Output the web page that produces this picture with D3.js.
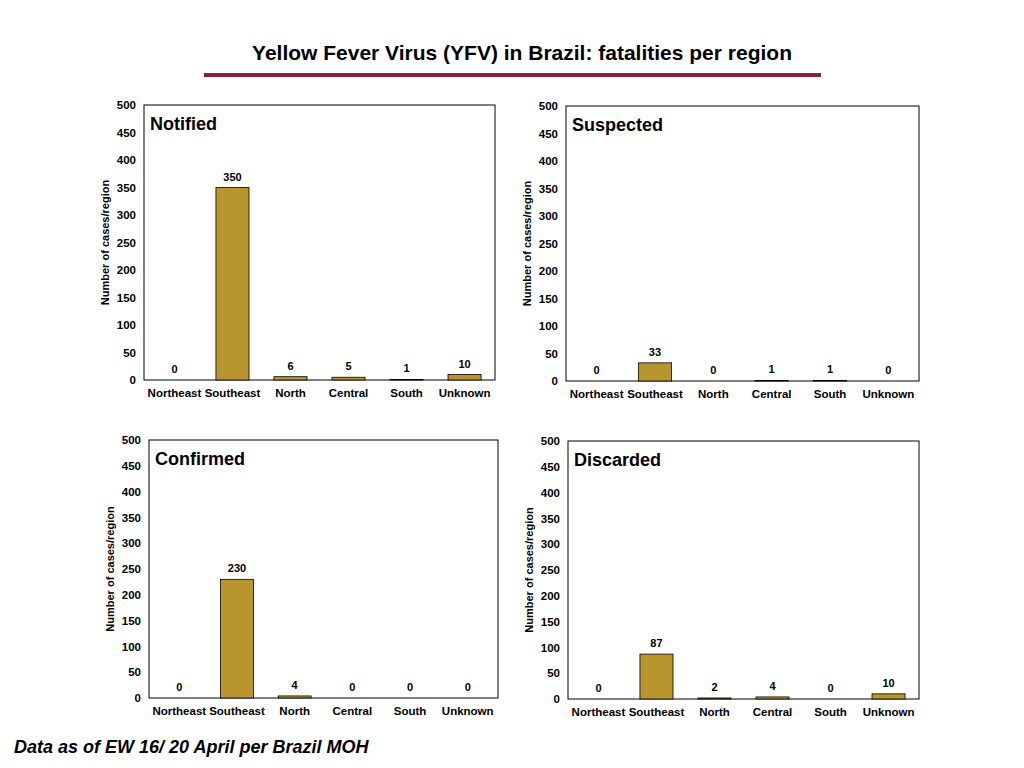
<!DOCTYPE html>
<html>
<head>
<meta charset="utf-8">
<script src="https://d3js.org/d3.v7.min.js"></script>
<style>
body { margin: 0; background: #fff; }
text { font-family: "Liberation Sans", Arial, sans-serif; }
</style>
</head>
<body>
<svg id="chart" width="1024" height="768"></svg>
<script>
var categories = ["Northeast", "Southeast", "North", "Central", "South", "Unknown"];
var notified = [0, 350, 6, 5, 1, 10];
var suspected = [0, 33, 0, 1, 1, 0];
var confirmed = [0, 230, 4, 0, 0, 0];
var discarded = [0, 87, 2, 4, 0, 10];
var yTicks = [0, 50, 100, 150, 200, 250, 300, 350, 400, 450, 500];

var svg = d3.select("#chart");

svg.append("text").attr("x", 522).attr("y", 60).attr("text-anchor", "middle")
  .style("font-size", "21px").style("font-weight", "bold").text("Yellow Fever Virus (YFV) in Brazil: fatalities per region");
svg.append("rect").attr("x", 204).attr("y", 73).attr("width", 617).attr("height", 4).attr("fill", "#8B1E4B");

svg.append("text").attr("x", 14).attr("y", 753)
  .style("font-size", "18px").style("font-weight", "bold").style("font-style", "italic")
  .text("Data as of EW 16/ 20 April per Brazil MOH");

var panels = [
  { name: "Notified", data: notified, x: 144, y: 105, w: 351, h: 275 },
  { name: "Suspected", data: suspected, x: 566, y: 106, w: 353, h: 275 },
  { name: "Confirmed", data: confirmed, x: 149, y: 440, w: 349, h: 258 },
  { name: "Discarded", data: discarded, x: 568, y: 441, w: 351, h: 258 }
];

panels.forEach(function (p) {
  var g = svg.append("g").attr("transform", "translate(" + p.x + "," + p.y + ")");
  var x = d3.scaleBand().domain(categories).range([0, p.w]).paddingInner(0.43).paddingOuter(0.24);
  var y = d3.scaleLinear().domain([0, 500]).range([p.h, 0]);

  g.append("rect").attr("width", p.w).attr("height", p.h).attr("fill", "none").attr("stroke", "#000").attr("stroke-width", 1);

  var ya = g.append("g").call(d3.axisLeft(y).tickValues(yTicks).tickSize(0).tickPadding(8));
  ya.select(".domain").remove();
  ya.selectAll("text").style("font-size", "11.5px").style("font-weight", "bold").style("font-family", "Liberation Sans, Arial");

  var xa = g.append("g").attr("transform", "translate(0," + p.h + ")")
    .call(d3.axisBottom(x).tickSize(0).tickPadding(9));
  xa.select(".domain").remove();
  xa.selectAll("text").style("font-size", "11.5px").style("font-weight", "bold").style("font-family", "Liberation Sans, Arial");

  g.append("text").attr("transform", "translate(-35," + (p.h / 2) + ") rotate(-90)")
    .attr("text-anchor", "middle").style("font-size", "11px").style("font-weight", "bold")
    .text("Number of cases/region");

  g.append("text").attr("x", 6).attr("y", 25).style("font-size", "18px").style("font-weight", "bold").text(p.name);

  g.selectAll(".bar").data(p.data).enter().append("rect")
    .attr("x", function (d, i) { return x(categories[i]); })
    .attr("y", function (d) { return y(d); })
    .attr("width", x.bandwidth())
    .attr("height", function (d) { return p.h - y(d); })
    .attr("fill", "#B8952F").attr("stroke", "#000").attr("stroke-width", 0.8);

  g.selectAll(".lbl").data(p.data).enter().append("text")
    .attr("x", function (d, i) { return x(categories[i]) + x.bandwidth() / 2; })
    .attr("y", function (d) { return y(d) - 7; })
    .attr("text-anchor", "middle").style("font-size", "11px").style("font-weight", "bold")
    .text(function (d) { return d; });
});
</script>
</body>
</html>
